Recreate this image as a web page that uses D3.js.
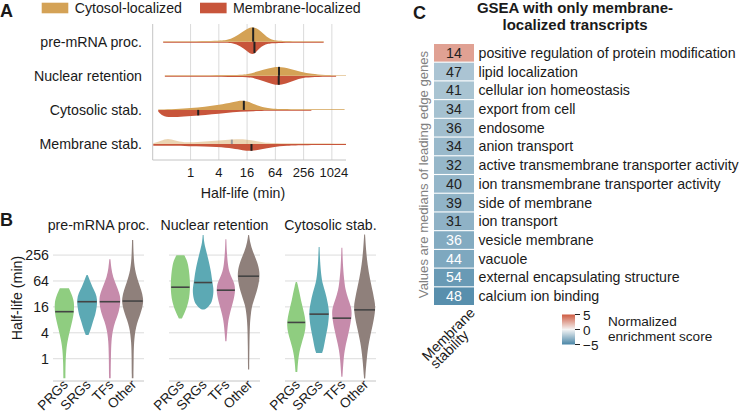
<!DOCTYPE html>
<html>
<head>
<meta charset="utf-8">
<script src="https://cdn.jsdelivr.net/npm/d3@7"></script>
<style>
body { margin: 0; background: #fff; }
text { font-family: "Liberation Sans", Arial, Helvetica, sans-serif; fill: #1a1a1a; }
</style>
</head>
<body>
<svg id="fig" width="747" height="415"></svg>
<script>
// ---- panel A: split violins, values are [log2 half-life, relative density]
var rowsA = ["pre-mRNA proc.", "Nuclear retention", "Cytosolic stab.", "Membrane stab."];
var locA = ["Cytosol-localized", "Membrane-localized"];
var ticksA = [1, 4, 16, 64, 256, 1024];
var cytoA = [
  [[-1.94,0.03],[2.0,0.04],[2.6,0.1],[3.1,0.3],[3.6,0.6],[4.0,0.88],[4.4,1.0],[4.8,0.85],[5.2,0.5],[5.6,0.18],[6.0,0.06],[7.0,0.03],[9.42,0.03]],
  [[-1.82,0.03],[3.5,0.04],[4.0,0.1],[4.8,0.3],[5.5,0.5],[6.2,0.64],[7.0,0.48],[7.8,0.26],[8.6,0.12],[9.4,0.05],[11,0.04]],
  [[-2.29,0.03],[-1,0.06],[0,0.12],[1,0.2],[2,0.33],[3,0.52],[3.7,0.66],[4.3,0.48],[4.9,0.22],[5.6,0.07],[7,0.04],[10.9,0.04]],
  [[-2.64,0.05],[-2.1,0.22],[-1.6,0.4],[-1.1,0.22],[-0.5,0.1],[0.5,0.12],[1.5,0.2],[2.5,0.28],[3.3,0.33],[4.0,0.3],[4.6,0.2],[5.2,0.08],[6,0.04],[11,0.04]]
];
var membA = [
  [[-1.94,0.07],[2.5,0.07],[3.0,0.1],[3.5,0.28],[4.0,0.62],[4.4,0.92],[4.7,0.62],[5.0,0.32],[5.4,0.13],[6,0.07],[9.42,0.07]],
  [[-1.82,0.07],[4.0,0.07],[4.5,0.15],[5.2,0.36],[5.8,0.56],[6.3,0.64],[6.9,0.46],[7.5,0.25],[8.1,0.1],[9,0.07],[10.3,0.07]],
  [[-2.29,0.1],[-2.0,0.4],[-1.45,0.5],[-0.5,0.43],[0.6,0.38],[1.5,0.3],[2.5,0.2],[3.5,0.12],[4.5,0.08],[5.5,0.06],[8.55,0.05]],
  [[-2.64,0.12],[0,0.14],[2,0.2],[3,0.3],[3.7,0.42],[4.3,0.48],[5.0,0.36],[5.8,0.2],[6.8,0.1],[8,0.07],[11,0.07]]
];
var medCytoA = [4.43, 6.26, 3.77, 2.92];
var medMembA = [4.52, 6.24, 0.54, 4.31];

// ---- panel B: violins per facet, values are [log2 half-life, relative width]
var facetsB = ["pre-mRNA proc.", "Nuclear retention", "Cytosolic stab."];
var groupsB = ["PRGs", "SRGs", "TFs", "Other"];
var ticksB = [1, 4, 16, 64, 256];
var preB = [
  [[-1.5,0.09],[-0.36,0.1],[0.67,0.16],[1.44,0.29],[2.2,0.5],[3.0,0.72],[3.6,0.85],[4.4,0.86],[4.9,0.68],[5.44,0.4]],
  [[1.83,0.12],[2.2,0.3],[2.86,0.5],[3.37,0.72],[4.0,0.85],[4.53,0.9],[5.05,0.76],[5.56,0.45],[6.07,0.22],[6.46,0.05]],
  [[-1.5,0.07],[0.15,0.09],[1.44,0.13],[2.2,0.26],[2.86,0.45],[3.6,0.8],[4.4,0.94],[4.9,0.9],[5.56,0.62],[6.33,0.26],[7.0,0.12],[7.67,0.05]],
  [[-1.5,0.07],[0.15,0.09],[1.2,0.11],[2.47,0.26],[3.5,0.72],[4.2,0.92],[4.66,0.94],[5.3,0.76],[5.82,0.54],[6.85,0.18],[8,0.08],[9.17,0.05]]
];
var nucB = [
  [[3.1,0.13],[3.61,0.42],[4.39,0.72],[5.0,0.82],[5.68,0.86],[6.5,0.8],[7.22,0.7],[7.7,0.52],[7.99,0.34]],
  [[3.8,0.1],[3.95,0.42],[4.39,0.8],[5.0,0.9],[5.42,0.92],[6.2,0.76],[6.7,0.7],[7.74,0.44],[8.5,0.22],[9.0,0.08],[9.54,0.04]],
  [[1.35,0.05],[2.84,0.18],[3.5,0.35],[4.13,0.56],[5.16,0.85],[5.8,0.76],[6.19,0.54],[6.7,0.3],[7.22,0.18],[8.2,0.08],[9.23,0.04]],
  [[-0.83,0.05],[1.0,0.07],[2.59,0.1],[3.5,0.2],[4.13,0.3],[5.16,0.72],[6.0,0.94],[6.7,0.98],[7.5,0.76],[8.25,0.36],[9.0,0.12],[9.54,0.04]]
];
var cytB = [
  [[-1.02,0.08],[0.27,0.18],[1.3,0.5],[2.0,0.74],[2.59,0.84],[3.2,0.76],[3.88,0.58],[4.5,0.4],[5.16,0.26],[5.6,0.15],[5.93,0.05]],
  [[0.45,0.26],[0.8,0.4],[1.56,0.54],[2.59,0.8],[3.61,0.9],[4.3,0.76],[5.16,0.54],[5.8,0.3],[6.45,0.18],[7.5,0.08],[8.63,0.04]],
  [[-1.4,0.05],[0,0.15],[0.79,0.26],[2.07,0.62],[3.36,0.9],[4.0,0.82],[4.65,0.54],[5.3,0.32],[5.93,0.22],[7,0.1],[8.56,0.04]],
  [[-1.53,0.05],[0,0.18],[1.3,0.36],[2.59,0.72],[3.88,0.98],[4.5,0.86],[5.16,0.72],[6.2,0.46],[7.22,0.26],[8.4,0.12],[9.59,0.04]]
];
var medPreB = [3.63, 4.4, 4.4, 4.45];
var medNucB = [5.52, 5.88, 5.29, 6.37];
var medCytB = [2.8, 3.44, 3.13, 3.77];

// ---- panel C: GSEA heatmap
var termsC = ["positive regulation of protein modification", "lipid localization", "cellular ion homeostasis",
  "export from cell", "endosome", "anion transport", "active transmembrane transporter activity",
  "ion transmembrane transporter activity", "side of membrane", "ion transport", "vesicle membrane",
  "vacuole", "external encapsulating structure", "calcium ion binding"];
var leadC = [14, 47, 41, 34, 36, 34, 32, 40, 39, 31, 36, 44, 54, 48];
var nesC = [2.7, -2.16, -2.2, -2.33, -2.44, -2.67, -2.76, -2.81, -2.9, -2.98, -3.32, -3.47, -4.1, -4.6];
var legendTicksC = [5, 0, -5];

var FS = "14.2px";
var svg = d3.select("#fig");
svg.append("rect").attr("width", 747).attr("height", 415).attr("fill", "#fff");

function densAt(p, v) {
  for (var i = 0; i < p.length - 1; i++) {
    if (v >= p[i][0] && v <= p[i + 1][0]) {
      var t = (v - p[i][0]) / (p[i + 1][0] - p[i][0]);
      return p[i][1] + t * (p[i + 1][1] - p[i][1]);
    }
  }
  return 0;
}
function panelLetter(s, x, y) {
  svg.append("text").attr("x", x).attr("y", y).text(s)
    .style("font-size", "18px").style("font-weight", "bold");
}

// ===================== Panel A =====================
var colA = d3.scaleOrdinal().domain(locA).range(["#d4a256", "#c8553b"]);
var xA = d3.scaleLog().base(2).domain([Math.pow(2, -2.68), Math.pow(2, 11)]).range([152.7, 346]);
var yA = d3.scalePoint().domain(rowsA).range([41.7, 144]);
var hA = d3.scaleLinear().domain([0, 1]).range([0, 15]);
var gA = svg.append("g");

gA.selectAll(".gridA").data(ticksA).enter().append("line")
  .attr("x1", d => xA(d)).attr("x2", d => xA(d)).attr("y1", 24).attr("y2", 160)
  .attr("stroke", "#dadada");
gA.append("line").attr("x1", xA.range()[0]).attr("x2", xA.range()[0]).attr("y1", 24).attr("y2", 160).attr("stroke", "#c4c4c4");
gA.append("line").attr("x1", xA.range()[0]).attr("x2", xA.range()[1]).attr("y1", 160).attr("y2", 160).attr("stroke", "#c4c4c4");
gA.selectAll(".tickA").data(ticksA).enter().append("text")
  .attr("x", d => xA(d) + (d === 1024 ? 2 : 0)).attr("y", 177).attr("text-anchor", "middle")
  .style("font-size", "13px").text(d => d);
gA.append("text").attr("x", 243).attr("y", 197.5).attr("text-anchor", "middle")
  .style("font-size", FS).text("Half-life (min)");
gA.selectAll(".rowA").data(rowsA).enter().append("text")
  .attr("x", 142).attr("y", d => yA(d) + 5).attr("text-anchor", "end")
  .style("font-size", FS).text(d => d);

rowsA.forEach(function (r, i) {
  var cy = yA(r);
  var faded = (i === 3) ? 0.45 : 1;
  var upper = d3.area().curve(d3.curveBasis)
    .x(d => xA(Math.pow(2, d[0]))).y0(cy).y1(d => cy - hA(d[1]));
  var lower = d3.area().curve(d3.curveBasis)
    .x(d => xA(Math.pow(2, d[0]))).y0(cy).y1(d => cy + hA(d[1]));
  gA.append("path").attr("d", lower(membA[i])).attr("fill", colA(locA[1]));
  var gu = gA.append("g").attr("opacity", faded);
  gu.append("path").attr("d", upper(cytoA[i])).attr("fill", colA(locA[0]));
  var mc = xA(Math.pow(2, medCytoA[i]));
  gu.append("line").attr("x1", mc).attr("x2", mc).attr("y1", cy)
    .attr("y2", cy - hA(densAt(cytoA[i], medCytoA[i])) * 0.95)
    .attr("stroke", "#222").attr("stroke-width", 2);
  var mm = xA(Math.pow(2, medMembA[i]));
  gA.append("line").attr("x1", mm).attr("x2", mm).attr("y1", cy)
    .attr("y2", cy + hA(densAt(membA[i], medMembA[i])) * 0.95)
    .attr("stroke", "#222").attr("stroke-width", 2);
});

// legend A
var legX = [41.7, 200];
locA.forEach(function (l, i) {
  svg.append("rect").attr("x", legX[i]).attr("y", 2.7).attr("width", 26.6).attr("height", 10.6).attr("fill", colA(l));
  svg.append("text").attr("x", legX[i] + 33).attr("y", 13.3).style("font-size", FS).text(l);
});
panelLetter("A", 0, 16.5);

// ===================== Panel B =====================
var colB = d3.scaleOrdinal().domain(groupsB).range(["#8fcd80", "#5ca9b4", "#c68bab", "#8f807b"]);
var fx = d3.scaleBand().domain(facetsB).range([53, 376]).paddingInner(0.2155);
var gx = d3.scaleBand().domain(groupsB).range([0, fx.bandwidth()]);
var yB = d3.scaleLog().base(2).domain([Math.pow(2, -1.72), Math.pow(2, 9.78)]).range([381, 232]);
var wB = d3.scaleLinear().domain([0, 1]).range([0, gx.bandwidth() / 2]);
var violB = [preB, nucB, cytB];
var medB = [medPreB, medNucB, medCytB];
var gB = svg.append("g");

facetsB.forEach(function (f, k) {
  var x0 = fx(f);
  gB.selectAll(".gridB" + k).data(ticksB).enter().append("line")
    .attr("x1", x0).attr("x2", x0 + fx.bandwidth())
    .attr("y1", d => yB(d)).attr("y2", d => yB(d)).attr("stroke", "#dcdcdc");
  gB.append("line").attr("x1", x0).attr("x2", x0 + fx.bandwidth())
    .attr("y1", 381).attr("y2", 381).attr("stroke", "#c4c4c4");
  gB.append("text").attr("x", x0 + fx.bandwidth() / 2).attr("y", 230)
    .attr("text-anchor", "middle").style("font-size", FS).text(f);
  groupsB.forEach(function (g, j) {
    var cx = x0 + gx(g) + gx.bandwidth() / 2;
    var prof = violB[k][j];
    var area = d3.area().curve(d3.curveBasis)
      .y(d => yB(Math.pow(2, d[0])))
      .x0(d => cx - wB(d[1])).x1(d => cx + wB(d[1]));
    gB.append("path").attr("d", area(prof)).attr("fill", colB(g));
    var m = medB[k][j];
    var hw = wB(densAt(prof, m)) * 0.95;
    gB.append("line").attr("x1", cx - hw).attr("x2", cx + hw)
      .attr("y1", yB(Math.pow(2, m))).attr("y2", yB(Math.pow(2, m)))
      .attr("stroke", "#444").attr("stroke-width", 1.6);
    gB.append("text").attr("transform", "translate(" + (cx + 4.5) + ",385.5) rotate(-45)")
      .attr("text-anchor", "end").style("font-size", "13.6px").text(g);
  });
});
gB.selectAll(".tickB").data(ticksB).enter().append("text")
  .attr("x", 49).attr("y", d => yB(d) + 5).attr("text-anchor", "end")
  .style("font-size", FS).text(d => d);
gB.append("text").attr("transform", "translate(22,298) rotate(-90)")
  .attr("text-anchor", "middle").style("font-size", FS).text("Half-life (min)");
panelLetter("B", 0, 226);

// ===================== Panel C =====================
var colC = d3.scaleLinear().domain([-5, 0, 5]).range(["#4a86a7", "#f4f4f4", "#cf5b41"]);
var yC = d3.scaleBand().domain(termsC).range([44, 305]).paddingInner(0.06);
var gC = svg.append("g");
gC.selectAll(".cellC").data(termsC).enter().append("rect")
  .attr("x", 434).attr("width", 40).attr("y", d => yC(d)).attr("height", yC.bandwidth())
  .attr("fill", (d, i) => colC(nesC[i]));
gC.selectAll(".valC").data(termsC).enter().append("text")
  .attr("x", 454).attr("y", d => yC(d) + yC.bandwidth() / 2 + 5)
  .attr("text-anchor", "middle").style("font-size", FS)
  .style("fill", (d, i) => nesC[i] < -3.2 ? "#fff" : "#222")
  .text((d, i) => leadC[i]);
gC.selectAll(".termC").data(termsC).enter().append("text")
  .attr("x", 478.5).attr("y", d => yC(d) + yC.bandwidth() / 2 + 5)
  .style("font-size", FS).text(d => d);
gC.append("text").attr("transform", "translate(427.5," + ((44 + 305) / 2) + ") rotate(-90)")
  .attr("text-anchor", "middle").style("font-size", "13.1px").style("fill", "#808080")
  .text("Values are medians of leading edge genes");
gC.append("text").attr("transform", "translate(448.3,334.2) rotate(-45)")
  .attr("text-anchor", "middle").attr("dy", "0.35em").style("font-size", FS).text("Membrane");
gC.append("text").attr("transform", "translate(449.2,349.2) rotate(-45)")
  .attr("text-anchor", "middle").attr("dy", "0.35em").style("font-size", FS).text("stability");
var title = gC.append("text").attr("text-anchor", "middle")
  .style("font-size", "15px").style("font-weight", "bold");
title.append("tspan").attr("x", 575).attr("y", 12.5).text("GSEA with only membrane-");
title.append("tspan").attr("x", 575).attr("y", 29.5).text("localized transcripts");
panelLetter("C", 413, 18.5);

// legend C
var lgY = d3.scaleLinear().domain([5, -5]).range([314.5, 344.5]);
var grad = svg.append("defs").append("linearGradient").attr("id", "nesGrad")
  .attr("x1", 0).attr("x2", 0).attr("y1", 0).attr("y2", 1);
d3.range(5, -5.01, -1).forEach(function (v) {
  grad.append("stop").attr("offset", (5 - v) / 10).attr("stop-color", colC(v));
});
gC.append("rect").attr("x", 562).attr("y", lgY(5)).attr("width", 13).attr("height", lgY(-5) - lgY(5))
  .attr("fill", "url(#nesGrad)");
gC.selectAll(".lgt").data(legendTicksC).enter().append("line")
  .attr("x1", 575).attr("x2", 580).attr("y1", d => lgY(d)).attr("y2", d => lgY(d))
  .attr("stroke", "#222").attr("stroke-width", 1);
gC.selectAll(".lgl").data(legendTicksC).enter().append("text")
  .attr("x", 583).attr("y", d => lgY(d) + 5).style("font-size", "13.6px")
  .text(d => d < 0 ? "\u2212" + Math.abs(d) : d);
var lgTitle = gC.append("text").style("font-size", "13.6px");
lgTitle.append("tspan").attr("x", 608).attr("y", 326).text("Normalized");
lgTitle.append("tspan").attr("x", 608).attr("y", 341.3).text("enrichment score");
</script>
</body>
</html>
